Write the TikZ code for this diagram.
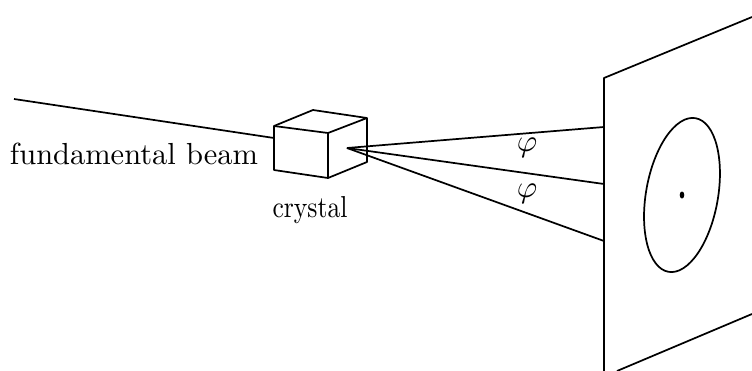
\documentclass[tikz,border=0pt]{standalone}
\begin{document}
\begin{tikzpicture}[x=0.32pt,y=-0.32pt,
  ln/.style={draw=black,line width=0.55pt,line join=round},
  lbl/.style={inner sep=0pt,text=black}]
\useasboundingbox (0,0) rectangle (752,371);
\coordinate (ftl) at (274,126);
\coordinate (ftr) at (328,133);
\coordinate (fbr) at (328,178);
\coordinate (fbl) at (274,170);
\coordinate (bt) at (313,110);
\coordinate (rt) at (367,118);
\coordinate (rb) at (367,162);
\coordinate (src) at (14,99);
\coordinate (hit) at (274,138);
\coordinate (apex) at (347,148);
\coordinate (s1) at (604,127);
\coordinate (s2) at (604,184);
\coordinate (s3) at (604,241);
\coordinate (stl) at (604,78);
\coordinate (str) at (752,17);
\coordinate (sbl) at (604,371);
\coordinate (sb1) at (617,371);
\coordinate (sb2) at (752,314);
\draw[ln] (src) -- (hit);
\draw[ln] (ftl) -- (ftr) -- (fbr) -- (fbl) -- cycle;
\draw[ln] (ftl) -- (bt) -- (rt) -- (ftr);
\draw[ln] (rt) -- (rb) -- (fbr);
\draw[ln] (apex) -- (s1);
\draw[ln] (apex) -- (s2);
\draw[ln] (apex) -- (s3);
\draw[ln] (sbl) -- (stl) -- (str);
\draw[ln] (sb1) -- (sb2);
\draw[ln] (682,195) ellipse [x radius=36,y radius=78,rotate=-10];
\fill (682,195) ellipse [x radius=2.3,y radius=3.5];
\node[lbl,scale=0.975] (fb) at (134,154) {fundamental beam};
\node[lbl,xscale=0.82,yscale=0.97] (cr) at (310,210) {crystal};
\node[lbl] (p1) at (527,148) {$\varphi$};
\node[lbl] (p2) at (527,194) {$\varphi$};
\end{tikzpicture}
\end{document}
